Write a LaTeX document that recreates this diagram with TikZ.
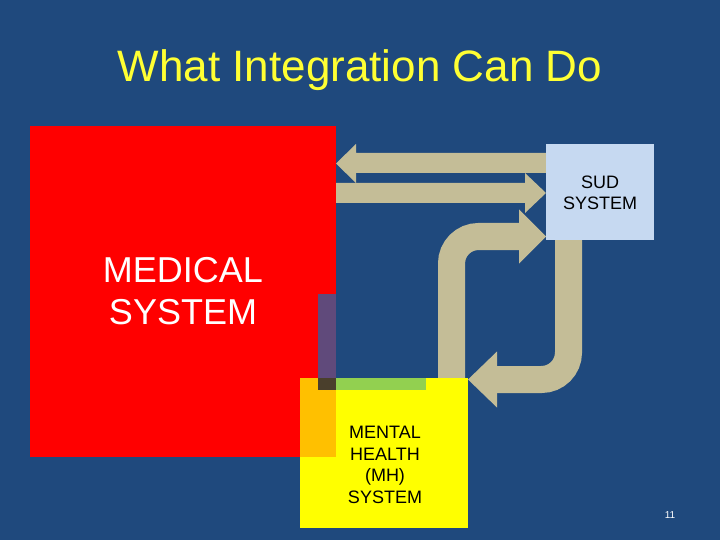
\documentclass[tikz,border=0pt]{standalone}
\usepackage{fontspec}
\setmainfont{Liberation Sans}
\definecolor{bgblue}{HTML}{1F497D}
\definecolor{tanarrow}{HTML}{C4BD97}
\definecolor{sudblue}{HTML}{C6D9F1}
\definecolor{titleyellow}{HTML}{FFFF33}
\definecolor{mhyellow}{HTML}{FFFF00}
\definecolor{overorange}{HTML}{FFC000}
\definecolor{overpurple}{HTML}{604A7B}
\definecolor{overdark}{HTML}{4A3F2C}
\definecolor{overgreen}{HTML}{92D050}
\tikzset{
  sysbox/.style={rectangle, draw=none, inner sep=0pt, outer sep=0pt},
  blockarrow/.style={fill=tanarrow, draw=none},
  bentshaft/.style={draw=tanarrow, line width=27pt, rounded corners=27pt},
  txt/.style={inner sep=0pt, align=center}
}
\begin{document}
\begin{tikzpicture}[x=1pt, y=-1pt]
\fill[bgblue] (0,0) rectangle (720,540);
\useasboundingbox (0,0) rectangle (720,540);

% title
\node[txt, anchor=base, text=titleyellow, font=\fontsize{44}{48}\selectfont] (title) at (360,82) {What Integration Can Do};

% straight arrows between medical and SUD
\fill[blockarrow] (546,153) -- (356,153) -- (356,144) -- (336,163.5) -- (356,183) -- (356,173) -- (546,173) -- cycle;
\fill[blockarrow] (336,183) -- (525,183) -- (525,173) -- (546,193) -- (525,213) -- (525,203) -- (336,203) -- cycle;

% medical system
\node[sysbox, fill=red, minimum width=306pt, minimum height=331pt] (medical) at (183,291.5) {};
\fill[overpurple] (318,294) rectangle (336,378);

% bent arrows
\draw[bentshaft] (451.5,382) -- (451.5,236.5) -- (520,236.5);
\fill[blockarrow] (519,209.5) -- (546,236.5) -- (519,263.5) -- cycle;
\draw[bentshaft] (568.5,236) -- (568.5,379.5) -- (496,379.5);
\fill[blockarrow] (497,351.5) -- (468,379.5) -- (497,407.5) -- cycle;

% mental health system
\node[sysbox, fill=mhyellow, minimum width=168pt, minimum height=150pt] (mh) at (384,453) {};
\fill[overorange] (300,378) rectangle (336,457);
\fill[overdark] (318,378) rectangle (336,390);
\fill[overgreen] (336,378) rectangle (426,390);

% SUD system
\node[sysbox, fill=sudblue, minimum width=108pt, minimum height=96pt] (sud) at (600,192) {};

% texts
\node[txt, text=white, font=\fontsize{36}{42}\selectfont] (medtext) at (medical.center) {MEDICAL\\SYSTEM};
\node[txt, text=black, font=\fontsize{18}{21}\selectfont] (sudtext) at ([yshift=-0.5pt]sud.center) {SUD\\SYSTEM};
\node[txt, text=black, font=\fontsize{18}{21.5}\selectfont] (mhtext) at ([xshift=1pt,yshift=-12pt]mh.center) {MENTAL\\HEALTH\\(MH)\\SYSTEM};

\node[txt, text=white, font=\fontsize{10}{12}\selectfont] (pagenum) at (670,515) {11};
\end{tikzpicture}
\end{document}
